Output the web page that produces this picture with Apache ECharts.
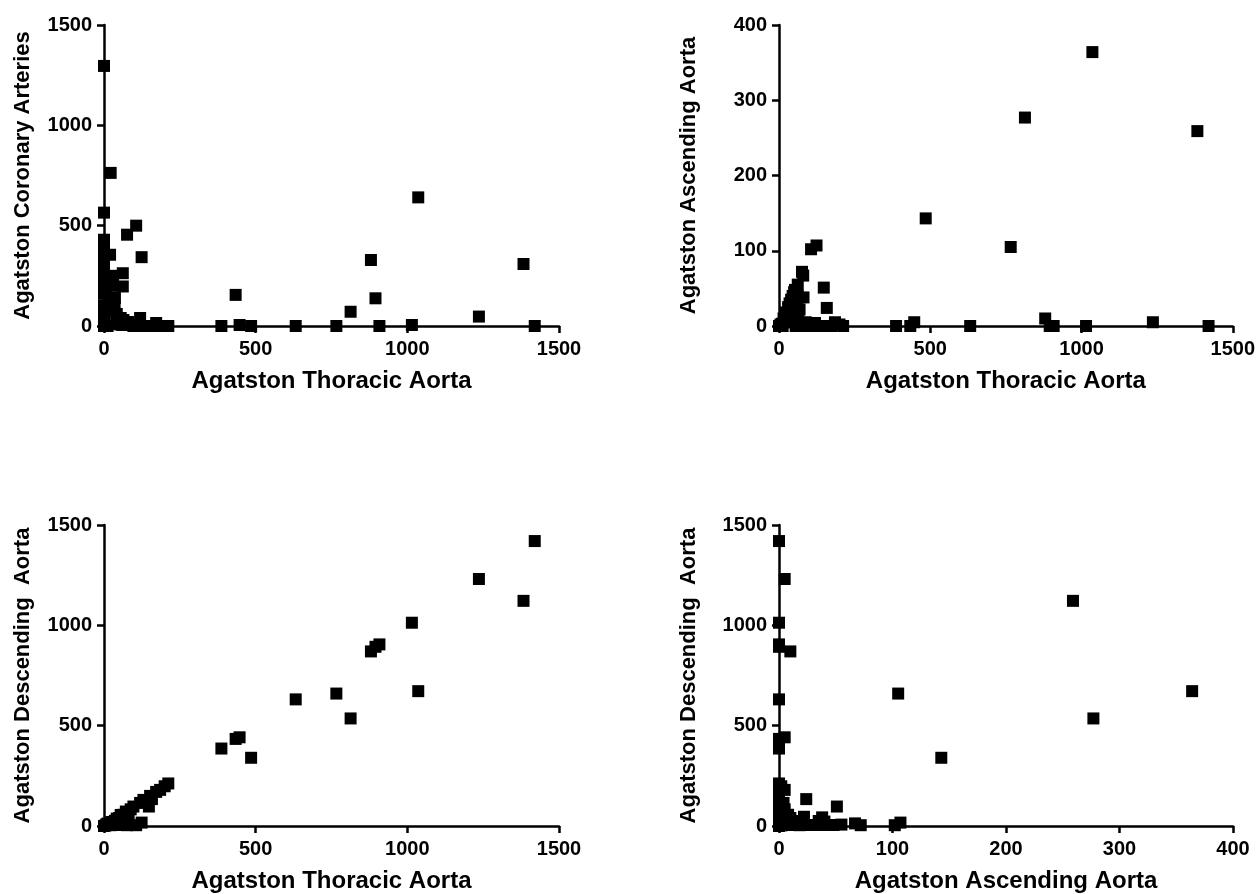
<!DOCTYPE html>
<html><head><meta charset="utf-8">
<script src="https://cdn.jsdelivr.net/npm/echarts@6/dist/echarts.min.js"></script>
<style>html,body{margin:0;padding:0;background:#fff}#c{width:1258px;height:894px}</style>
</head><body><div id="c"></div><script>
// One entry per patient (Agatston scores)
const thoracic   = [1420,1236,1383,1015,1036,880,895,908,766,813,632,434,447,387,485,
  106,124,76,80,148,158,62,62,68,81,212,200,185,172,152,130,119,97,88,72,64,55,42,36,30,20,22,35,40,45,50,53,60,45,50,25,15,10,5,
  0,0,0,0,0,0,0,0,0,0,0,0,0,0,0,8,12];
const ascending  = [0,5,259,0,364,10,0,0,105,277,0,0,5,0,143,
  102,107,72,67,51,24,55,40,22,38,0,2,5,0,0,0,4,0,5,0,8,0,5,10,25,15,18,30,35,40,45,48,35,20,10,5,10,3,2,
  0,0,0,0,0,0,0,0,0,0,0,0,0,0,0,0,0];
const descending = [1420,1231,1122,1013,672,870,893,905,660,536,631,434,442,386,340,
  4,17,4,13,97,134,7,22,46,43,212,198,180,170,150,130,115,97,83,72,56,55,37,26,5,5,4,5,5,5,5,5,25,25,40,20,5,7,3,
  0,0,0,0,0,0,0,0,0,0,0,0,0,0,0,8,12];
const coronary   = [0,47,309,5,641,329,138,0,0,71,0,155,5,0,0,
  500,343,455,20,0,0,263,197,10,5,0,0,0,15,0,0,40,0,5,20,30,40,60,140,250,355,763,100,60,30,15,8,5,25,10,200,120,80,180,
  1296,565,430,410,380,330,300,270,240,210,160,100,50,0,0,0,0];

const panels = [
  {x: thoracic,  y: coronary,   xName: 'Agatston Thoracic Aorta',  yName: 'Agatston Coronary Arteries', xMax: 1500, xInt: 500, yMax: 1500, yInt: 500},
  {x: thoracic,  y: ascending,  xName: 'Agatston Thoracic Aorta',  yName: 'Agatston Ascending Aorta',   xMax: 1500, xInt: 500, yMax: 400,  yInt: 100},
  {x: thoracic,  y: descending, xName: 'Agatston Thoracic Aorta',  yName: 'Agatston Descending  Aorta', xMax: 1500, xInt: 500, yMax: 1500, yInt: 500},
  {x: ascending, y: descending, xName: 'Agatston Ascending Aorta', yName: 'Agatston Descending  Aorta', xMax: 400,  xInt: 100, yMax: 1500, yInt: 500}
];

const FONT = "'Liberation Sans', Arial, sans-serif";
const grids = [
  {left: 104, top: 25,  width: 455, height: 301},
  {left: 779, top: 25,  width: 454, height: 301},
  {left: 104, top: 525, width: 455, height: 301},
  {left: 779, top: 525, width: 454, height: 301}
];
const yGaps = [70, 79, 70, 79];

function axisBase(i, max, interval, name, gap, isY) {
  return {
    type: 'value', gridIndex: i, min: 0, max: max, interval: interval,
    name: name, nameLocation: 'middle', nameGap: gap,
    nameTextStyle: {fontFamily: FONT, fontWeight: 'bold', fontSize: isY ? 22 : 24, color: '#000'},
    axisLine: {show: true, onZero: false, lineStyle: {color: '#000', width: 2.5}},
    axisTick: {show: true, length: 7, lineStyle: {color: '#000', width: 2.5}},
    axisLabel: {fontFamily: FONT, fontWeight: 'bold', fontSize: 20, color: '#000', margin: isY ? 12 : 13,
      formatter: v => String(v)},
    splitLine: {show: false}
  };
}

const option = {
  backgroundColor: '#fff',
  animation: false,
  grid: grids,
  xAxis: panels.map((p, i) => axisBase(i, p.xMax, p.xInt, p.xName, 43, false)),
  yAxis: panels.map((p, i) => axisBase(i, p.yMax, p.yInt, p.yName, yGaps[i], true)),
  series: panels.map((p, i) => ({
    type: 'scatter', xAxisIndex: i, yAxisIndex: i, clip: false,
    symbol: 'rect', symbolSize: 12,
    itemStyle: {color: '#000', opacity: 1},
    data: p.x.map((v, k) => [v, p.y[k]])
  }))
};

const chart = echarts.init(document.getElementById('c'), null, {renderer: 'canvas'});
chart.setOption(option);
</script></body></html>
